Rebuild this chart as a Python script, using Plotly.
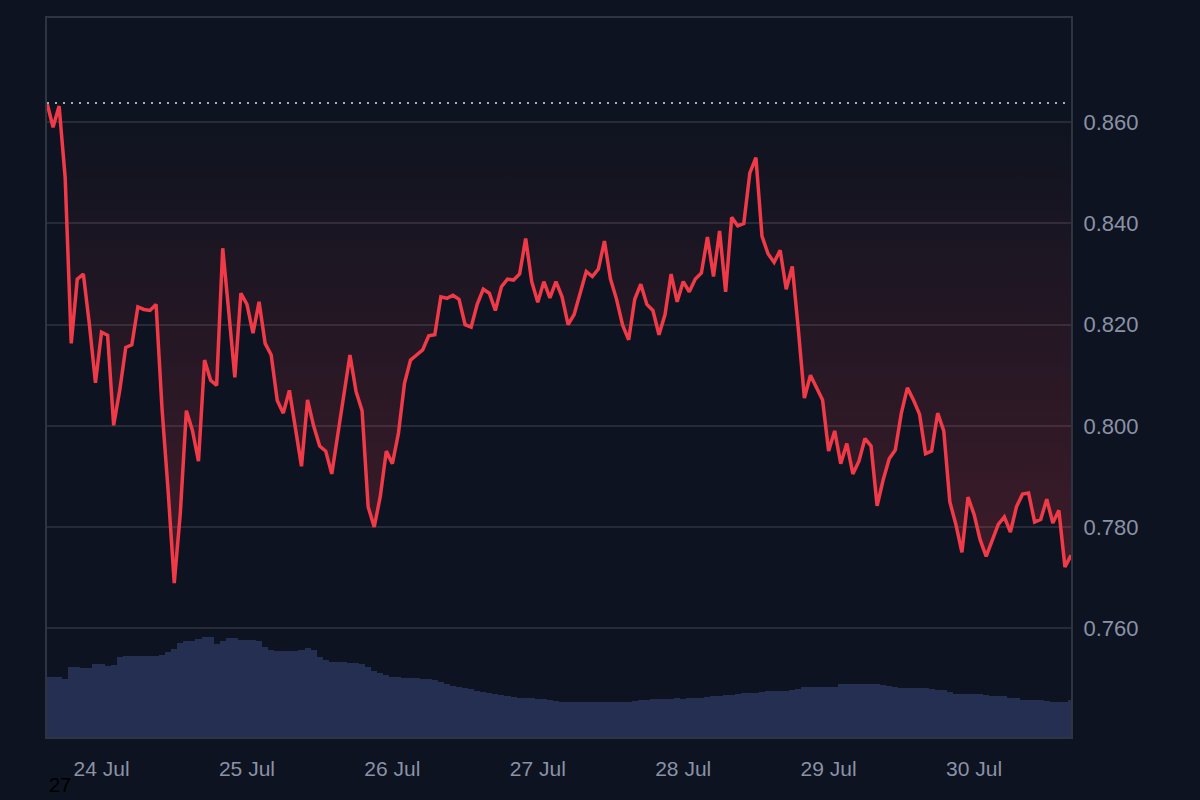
import pandas as pd
import plotly.graph_objects as go

# hourly closes, 23 Jul 15:00 -> 30 Jul 16:00
start_time = "2025-07-23 15:00"
prices = [
    0.8638, 0.8590, 0.8632, 0.8490, 0.8163, 0.8290, 0.8300, 0.8200, 0.8085, 0.8185,
    0.8179, 0.8001, 0.8070, 0.8155, 0.8160, 0.8235, 0.8230, 0.8228, 0.8240, 0.8031,
    0.7870, 0.7689, 0.7827, 0.8030, 0.7991, 0.7930, 0.8130, 0.8090, 0.8080, 0.8351,
    0.8225, 0.8096, 0.8262, 0.8240, 0.8183, 0.8245, 0.8163, 0.8140, 0.8050, 0.8025,
    0.8070, 0.8000, 0.7920, 0.8051, 0.8000, 0.7960, 0.7950, 0.7905, 0.7985, 0.8070,
    0.8140, 0.8068, 0.8030, 0.7840, 0.7800, 0.7860, 0.7950, 0.7925, 0.7985, 0.8084,
    0.8130, 0.8140, 0.8150, 0.8178, 0.8180, 0.8255, 0.8252, 0.8258, 0.8250, 0.8200,
    0.8195, 0.8240, 0.8270, 0.8262, 0.8228, 0.8275, 0.8290, 0.8288, 0.8300, 0.8370,
    0.8285, 0.8244, 0.8285, 0.8253, 0.8285, 0.8255, 0.8200, 0.8220, 0.8265, 0.8305,
    0.8295, 0.8310, 0.8365, 0.8290, 0.8250, 0.8199, 0.8170, 0.8250, 0.8280, 0.8240,
    0.8228, 0.8180, 0.8220, 0.8300, 0.8245, 0.8285, 0.8265, 0.8290, 0.8302, 0.8373,
    0.8295, 0.8385, 0.8265, 0.8412, 0.8395, 0.8400, 0.8500, 0.8530, 0.8375, 0.8340,
    0.8323, 0.8347, 0.8270, 0.8315, 0.8190, 0.8055, 0.8100, 0.8075, 0.8051, 0.7950,
    0.7990, 0.7925, 0.7965, 0.7905, 0.7930, 0.7975, 0.7960, 0.7842, 0.7893, 0.7935,
    0.7952, 0.8025, 0.8075, 0.8051, 0.8023, 0.7945, 0.7950, 0.8025, 0.7990, 0.7850,
    0.7805, 0.7750, 0.7859, 0.7825, 0.7775, 0.7742, 0.7774, 0.7805, 0.7820, 0.7790,
    0.7840, 0.7865, 0.7867, 0.7810, 0.7815, 0.7855, 0.7808, 0.7833, 0.7721, 0.7744,
]
volumes = [
    600, 600, 600, 580, 700, 700, 690, 690, 730, 730,
    710, 720, 800, 810, 810, 810, 810, 810, 810, 820,
    850, 880, 940, 960, 960, 980, 1000, 1000, 930, 960,
    990, 990, 970, 970, 970, 960, 900, 870, 860, 860,
    860, 860, 870, 890, 870, 800, 770, 750, 750, 750,
    740, 740, 730, 700, 660, 640, 620, 600, 600, 590,
    590, 590, 580, 580, 570, 550, 530, 510, 500, 490,
    480, 460, 450, 440, 430, 420, 410, 400, 390, 390,
    390, 380, 380, 370, 360, 350, 350, 350, 350, 350,
    350, 350, 350, 350, 350, 350, 350, 360, 370, 370,
    380, 380, 380, 380, 390, 380, 390, 390, 390, 400,
    410, 410, 420, 420, 430, 440, 440, 440, 450, 460,
    460, 460, 460, 470, 480, 500, 500, 500, 500, 500,
    500, 530, 530, 530, 530, 530, 530, 530, 520, 510,
    500, 490, 490, 490, 490, 490, 480, 470, 470, 450,
    430, 430, 430, 430, 430, 420, 410, 410, 410, 390,
    390, 370, 370, 370, 370, 360, 350, 350, 350, 370,
]
y_ticks = [0.76, 0.78, 0.80, 0.82, 0.84, 0.86]
y_range = [0.7385, 0.8806]
footer_text = "27"

times = pd.date_range(start_time, periods=len(prices), freq="h")
baseline = prices[0]

BG = "#0d1320"
RED = "#f03a48"
GRID = "#262b37"
FRAME = "#2e3440"
TXT = "#8a92a6"

fig = go.Figure()
fig.add_trace(go.Bar(
    x=times, y=volumes, yaxis="y2",
    marker=dict(color="#252f52", line=dict(width=0)),
    hoverinfo="skip",
))
fig.add_trace(go.Scatter(
    x=times, y=[baseline] * len(prices), mode="lines",
    line=dict(width=0, color="rgba(0,0,0,0)"), hoverinfo="skip",
))
fig.add_trace(go.Scatter(
    x=times, y=prices, mode="lines",
    line=dict(color=RED, width=3.5),
    fill="tonexty",
    fillgradient=dict(
        type="vertical",
        colorscale=[[0, "rgba(240,58,72,0.22)"], [1, "rgba(240,58,72,0.0)"]],
    ),
))

fig.add_shape(
    type="line", xref="paper", x0=0, x1=1, yref="y", y0=baseline, y1=baseline,
    line=dict(color="#a8adb6", width=2, dash="2px,6px"),
)
fig.add_annotation(
    text=footer_text, xref="paper", yref="paper", x=0, y=-0.0848,
    xanchor="left", yanchor="bottom", showarrow=False,
    font=dict(color="#000000", size=20, family="Liberation Sans"),
)

fig.update_layout(
    width=1200, height=800,
    margin=dict(l=47, r=129, t=18, b=63),
    paper_bgcolor=BG, plot_bgcolor=BG,
    showlegend=False, bargap=0.0,
    font=dict(family="Liberation Sans", color=TXT, size=22),
    xaxis=dict(
        range=[times[0], times[-1]], showgrid=False, zeroline=False,
        showline=True, mirror=True, linecolor=FRAME, linewidth=2,
        tickformat="%d %b", dtick=86400000, tick0="2025-07-24",
        ticks="", ticklabelstandoff=12, tickfont=dict(color=TXT, size=21),
    ),
    yaxis=dict(
        side="right", range=y_range, tickvals=y_ticks, tickformat=".3f",
        showgrid=True, gridcolor=GRID, gridwidth=1.5, zeroline=False,
        showline=True, mirror=True, linecolor=FRAME, linewidth=2,
        ticks="", ticklabelstandoff=6, tickfont=dict(color=TXT, size=22),
    ),
    yaxis2=dict(
        overlaying="y", range=[0, max(volumes) * 7.2], visible=False,
    ),
)

fig.write_html(
    "out.html",
    config={"displayModeBar": False},
    post_script="document.body.style.margin='0';document.body.style.overflow='hidden';",
)
